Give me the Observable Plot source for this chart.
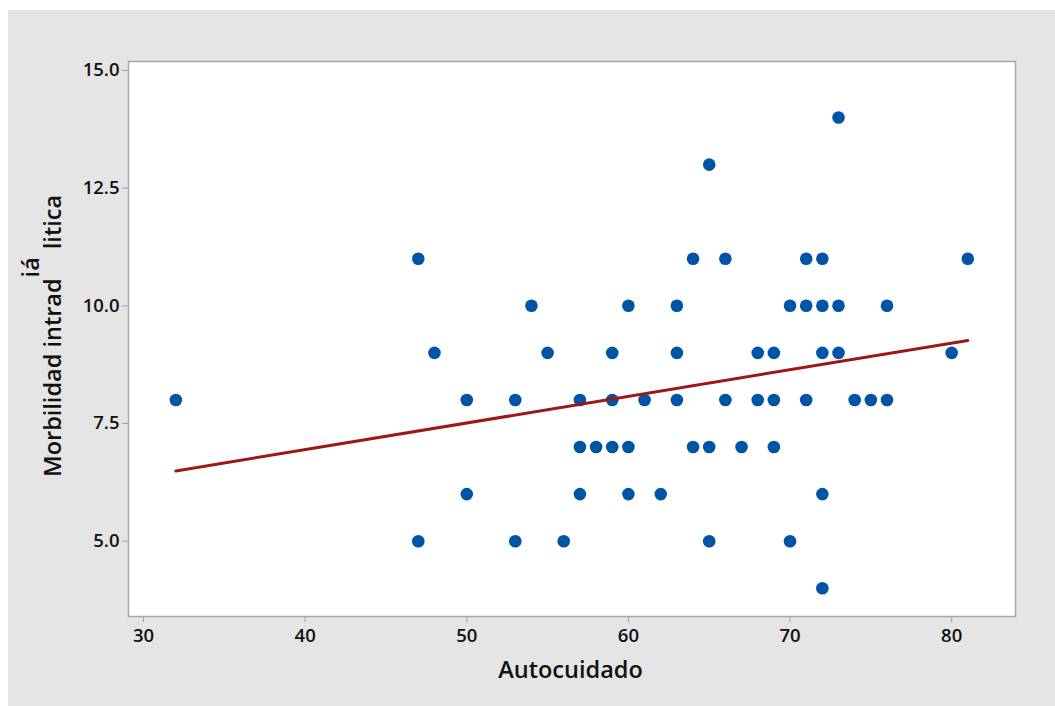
<!DOCTYPE html>
<html><head><meta charset="utf-8">
<script src="https://cdn.jsdelivr.net/npm/d3@7"></script>
<script src="https://cdn.jsdelivr.net/npm/@observablehq/plot@0.6"></script>
<style>
html,body{margin:0;padding:0;background:#fff;}
#chart{position:absolute;left:8px;top:10px;width:1047px;height:696px;background:#e5e5e5;}
#chart svg{font-family:"Open Sans",sans-serif;display:block;}
</style></head><body><div id="chart"></div>
<script>
const autocuidado = [32,47,47,48,50,50,53,53,54,55,56,57,57,57,58,59,59,59,60,60,60,61,62,63,63,63,64,64,65,65,65,66,66,67,68,68,69,69,69,70,70,71,71,71,72,72,72,72,72,73,73,73,74,75,76,76,80,81];
const morbilidad = [8,11,5,9,8,6,8,5,10,9,5,8,7,6,7,9,8,7,10,7,6,8,6,10,9,8,11,7,13,7,5,11,8,7,9,8,9,8,7,10,5,11,10,8,11,10,9,6,4,14,10,9,8,8,10,8,9,11];
const xTicks = [30,40,50,60,70,80];
const yTicks = [5,7.5,10,12.5,15];
const xTitle = "Autocuidado";
const yTitleParts = ["Morbilidad intrad", "iá", "litica"];

const data = autocuidado.map((x, i) => ({x, y: morbilidad[i]}));

const plot = Plot.plot({
  width: 1047, height: 696,
  marginLeft: 120, marginRight: 40, marginTop: 51, marginBottom: 90,
  style: {background: "transparent", fontFamily: "Open Sans", color: "black", overflow: "visible"},
  x: {domain: [29.07, 83.95]},
  y: {domain: [3.40, 15.19]},
  marks: [
    Plot.frame({fill: "white", stroke: "#a6a6a6", strokeWidth: 1.5}),
    Plot.axisX(xTicks, {tickSize: 6, tickPadding: 6, stroke: "#a0a0a0", fill: "#111", fontSize: 18.5, fontWeight: 600, label: null}),
    Plot.axisY(yTicks, {tickSize: 6, tickPadding: 3, stroke: "#a0a0a0", fill: "#111", fontSize: 18.5, fontWeight: 600, label: null, tickFormat: d3.format(".1f")}),
    Plot.dot(data, {x: "x", y: "y", r: 6.3, fill: "#0054a6"}),
    Plot.linearRegressionY(data, {x: "x", y: "y", stroke: "#9e1616", strokeWidth: 3, ci: 0})
  ]
});
document.getElementById("chart").appendChild(plot);

const svg = d3.select(plot);
svg.append("text")
  .attr("x", 562.5).attr("y", 668)
  .attr("text-anchor", "middle")
  .attr("font-size", 23.5).attr("font-weight", 600).attr("fill", "#111")
  .attr("font-family", "Open Sans")
  .text(xTitle);

const yl = svg.append("text")
  .attr("transform", "translate(53,467) rotate(-90)")
  .attr("text-anchor", "start")
  .attr("font-size", 23.5).attr("font-weight", 600).attr("fill", "#111")
  .attr("font-family", "Open Sans");
yl.append("tspan").text(yTitleParts[0]);
yl.append("tspan").attr("dy", -22).attr("dx", 1).text(yTitleParts[1]);
yl.append("tspan").attr("dy", 22).attr("dx", 8).text(yTitleParts[2]);
</script></body></html>
